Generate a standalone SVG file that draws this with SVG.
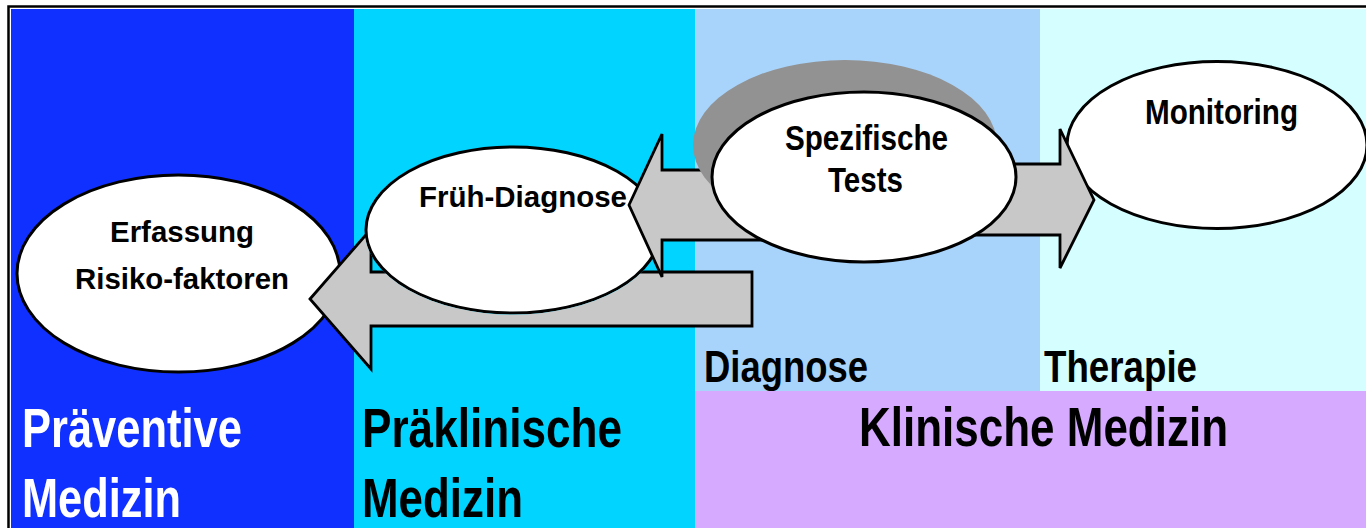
<svg xmlns="http://www.w3.org/2000/svg" width="1366" height="528" viewBox="0 0 1366 528">
<defs>
<style>
text{font-family:"Liberation Sans",Arial,Helvetica,sans-serif;font-weight:bold;fill:#000}
.shape{fill:#fff;stroke:#000;stroke-width:3}
.arrow{fill:#c8c8c8;stroke:#000;stroke-width:2.8;stroke-linejoin:miter}
.s30{font-size:30px}
.s35{font-size:35px}
.s44{font-size:44px}
.s55{font-size:55px}
.white{fill:#fff}
</style>
<mask id="cutFrueh" maskUnits="userSpaceOnUse" x="0" y="0" width="1366" height="528">
<rect width="1366" height="528" fill="#fff"/>
<ellipse cx="513" cy="230" rx="148.5" ry="84.5" fill="#000"/>
</mask>
</defs>
<rect width="1366" height="528" fill="#fff"/>
<g id="background">
<rect x="11" y="9" width="343" height="519" fill="#0f30ff"/>
<rect x="354" y="9" width="341" height="519" fill="#00d4ff"/>
<rect x="695" y="9" width="345" height="519" fill="#a8d4fc"/>
<rect x="1040" y="9" width="326" height="519" fill="#d4feff"/>
<rect x="695" y="391" width="671" height="137" fill="#d5aaff"/>
<path d="M8.5,530 V6.5 H1370" fill="none" stroke="#000" stroke-width="2.5"/>
</g>
<g id="zone-labels">
<text class="s55 white" x="22" y="447" textLength="220" lengthAdjust="spacingAndGlyphs">Präventive</text>
<text class="s55 white" x="22" y="517" textLength="159" lengthAdjust="spacingAndGlyphs">Medizin</text>
<text class="s55" x="362" y="447" textLength="260" lengthAdjust="spacingAndGlyphs">Präklinische</text>
<text class="s55" x="362" y="517" textLength="161" lengthAdjust="spacingAndGlyphs">Medizin</text>
<text class="s55" x="859" y="446" textLength="369" lengthAdjust="spacingAndGlyphs">Klinische Medizin</text>
<text class="s44" x="704" y="382" textLength="164" lengthAdjust="spacingAndGlyphs">Diagnose</text>
<text class="s44" x="1044" y="382" textLength="153" lengthAdjust="spacingAndGlyphs">Therapie</text>
</g>
<g id="node-erfassung">
<ellipse class="shape" cx="178.5" cy="273.5" rx="161.5" ry="98.5"/>
<text class="s30" x="110" y="242" textLength="144" lengthAdjust="spacingAndGlyphs">Erfassung</text>
<text class="s30" x="75" y="288.5" textLength="214" lengthAdjust="spacingAndGlyphs">Risiko-faktoren</text>
</g>
<g id="node-fruehdiagnose">
<ellipse class="shape" cx="513" cy="230" rx="147" ry="83"/>
<text class="s30" x="419" y="207" textLength="208" lengthAdjust="spacingAndGlyphs">Früh-Diagnose</text>
</g>
<g id="node-monitoring">
<ellipse class="shape" cx="1217" cy="145" rx="150" ry="83.5"/>
<text class="s35" x="1145" y="123.5" textLength="153" lengthAdjust="spacingAndGlyphs">Monitoring</text>
</g>
<g id="connectors">
<path id="arrow-to-erfassung" class="arrow" mask="url(#cutFrueh)" d="M310,299 L371,229 L371,272 L752,272 L752,326 L371,326 L371,369 Z"/>
<path id="arrow-to-fruehdiagnose" class="arrow" d="M629,205 L662,134 L662,170 L800,170 L800,240 L662,240 L662,277 Z"/>
<path id="arrow-to-monitoring" class="arrow" d="M1094,200 L1060,129 L1060,164 L900,164 L900,235 L1060,235 L1060,268 Z"/>
</g>
<g id="node-spezifische-tests">
<ellipse cx="845" cy="145" rx="152" ry="85" fill="#929292"/>
<ellipse class="shape" cx="864" cy="177" rx="152" ry="85"/>
<text class="s35" x="785" y="149.5" textLength="163" lengthAdjust="spacingAndGlyphs">Spezifische</text>
<text class="s35" x="828" y="192" textLength="75" lengthAdjust="spacingAndGlyphs">Tests</text>
</g>
</svg>
